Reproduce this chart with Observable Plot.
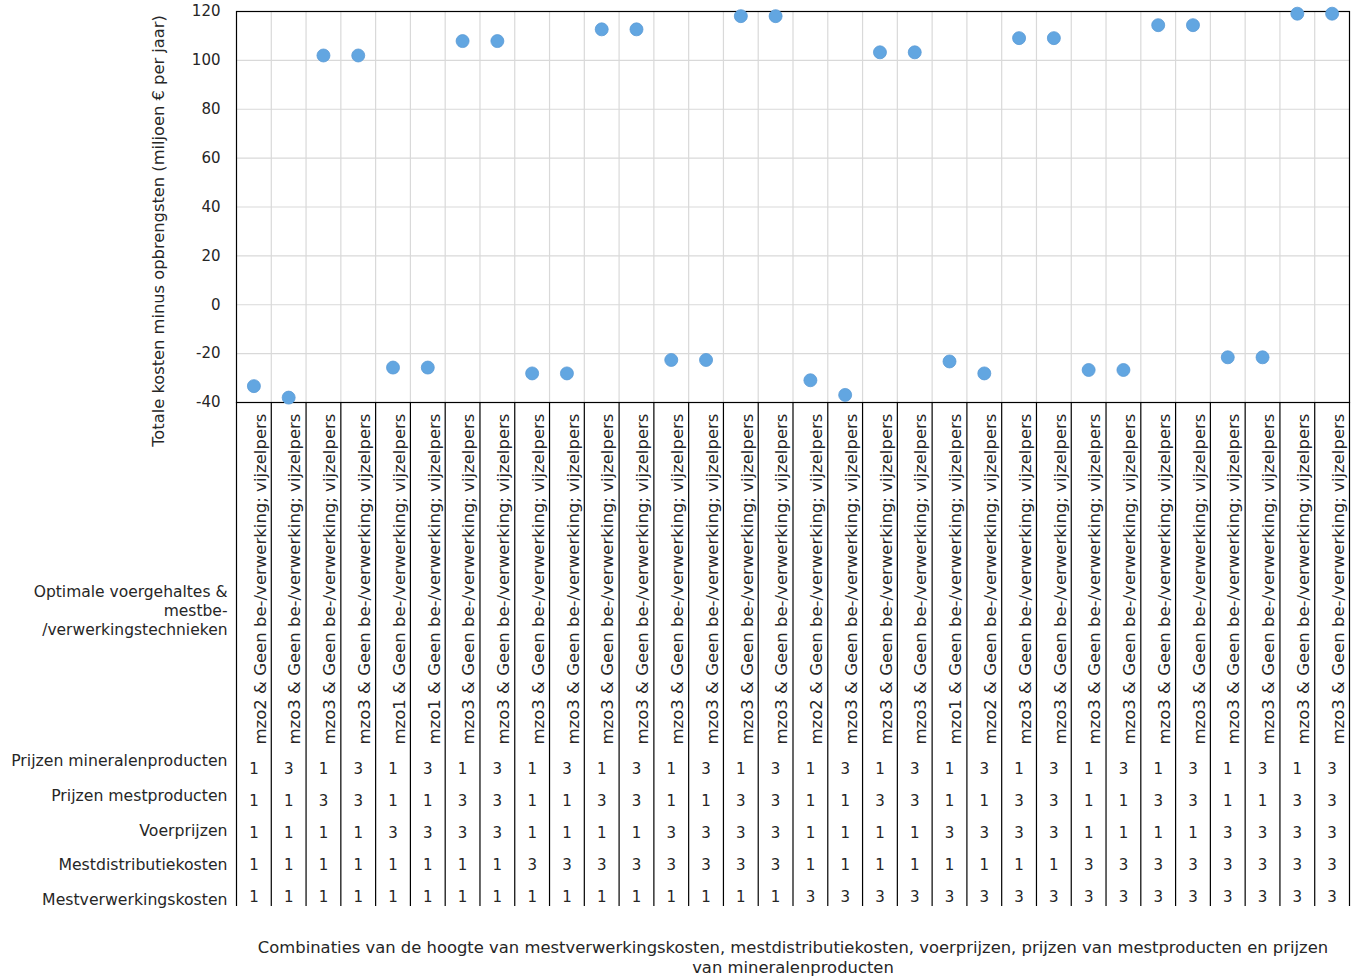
<!DOCTYPE html>
<html><head><meta charset="utf-8">
<script src="https://cdn.jsdelivr.net/npm/d3@7"></script>
<script src="https://cdn.jsdelivr.net/npm/@observablehq/plot@0.6"></script>
<style>
body{margin:0;background:#fff;}
#wrap{position:relative;width:1356px;height:979px;}
#wrap svg{position:absolute;left:0;overflow:visible;}
</style></head><body><div id="wrap"></div>
<script>
const categories = [
  "mzo2 & Geen be-/verwerking; vijzelpers","mzo3 & Geen be-/verwerking; vijzelpers",
  "mzo3 & Geen be-/verwerking; vijzelpers","mzo3 & Geen be-/verwerking; vijzelpers",
  "mzo1 & Geen be-/verwerking; vijzelpers","mzo1 & Geen be-/verwerking; vijzelpers",
  "mzo3 & Geen be-/verwerking; vijzelpers","mzo3 & Geen be-/verwerking; vijzelpers",
  "mzo3 & Geen be-/verwerking; vijzelpers","mzo3 & Geen be-/verwerking; vijzelpers",
  "mzo3 & Geen be-/verwerking; vijzelpers","mzo3 & Geen be-/verwerking; vijzelpers",
  "mzo3 & Geen be-/verwerking; vijzelpers","mzo3 & Geen be-/verwerking; vijzelpers",
  "mzo3 & Geen be-/verwerking; vijzelpers","mzo3 & Geen be-/verwerking; vijzelpers",
  "mzo2 & Geen be-/verwerking; vijzelpers","mzo3 & Geen be-/verwerking; vijzelpers",
  "mzo3 & Geen be-/verwerking; vijzelpers","mzo3 & Geen be-/verwerking; vijzelpers",
  "mzo1 & Geen be-/verwerking; vijzelpers","mzo2 & Geen be-/verwerking; vijzelpers",
  "mzo3 & Geen be-/verwerking; vijzelpers","mzo3 & Geen be-/verwerking; vijzelpers",
  "mzo3 & Geen be-/verwerking; vijzelpers","mzo3 & Geen be-/verwerking; vijzelpers",
  "mzo3 & Geen be-/verwerking; vijzelpers","mzo3 & Geen be-/verwerking; vijzelpers",
  "mzo3 & Geen be-/verwerking; vijzelpers","mzo3 & Geen be-/verwerking; vijzelpers",
  "mzo3 & Geen be-/verwerking; vijzelpers","mzo3 & Geen be-/verwerking; vijzelpers"
];
const values = [-33.3,-38.0,102,102,-25.7,-25.7,107.9,107.9,-28.1,-28.1,112.7,112.7,-22.6,-22.6,118.1,118.1,
  -30.9,-36.9,103.3,103.3,-23.2,-28.1,109.1,109.1,-26.7,-26.7,114.4,114.4,-21.5,-21.5,119.1,119.1];
const rowLabels = ["Prijzen mineralenproducten","Prijzen mestproducten","Voerprijzen","Mestdistributiekosten","Mestverwerkingskosten"];
const mineralen   = [1,3,1,3,1,3,1,3,1,3,1,3,1,3,1,3,1,3,1,3,1,3,1,3,1,3,1,3,1,3,1,3];
const mestprod    = [1,1,3,3,1,1,3,3,1,1,3,3,1,1,3,3,1,1,3,3,1,1,3,3,1,1,3,3,1,1,3,3];
const voer        = [1,1,1,1,3,3,3,3,1,1,1,1,3,3,3,3,1,1,1,1,3,3,3,3,1,1,1,1,3,3,3,3];
const distributie = [1,1,1,1,1,1,1,1,3,3,3,3,3,3,3,3,1,1,1,1,1,1,1,1,3,3,3,3,3,3,3,3];
const verwerking  = [1,1,1,1,1,1,1,1,1,1,1,1,1,1,1,1,3,3,3,3,3,3,3,3,3,3,3,3,3,3,3,3];
const yTicks = [-40,-20,0,20,40,60,80,100,120];
const yTitle = "Totale kosten minus opbrengsten (miljoen € per jaar)";
const optLabel = "Optimale voergehaltes &\nmestbe-\n/verwerkingstechnieken";
const xTitle = "Combinaties van de hoogte van mestverwerkingskosten, mestdistributiekosten, voerprijzen, prijzen van mestproducten en prijzen\nvan mineralenproducten";

const font = "Verdana, 'DejaVu Sans', sans-serif";
const W = 1356, n = categories.length;
const rowData = [mineralen, mestprod, voer, distributie, verwerking];
const cells = [];
rowData.forEach((arr, r) => arr.forEach((v, i) => cells.push({i, row: rowLabels[r], v})));
const bounds = d3.range(0, n + 1);
const ink = "#262626";

const chart = Plot.plot({
  width: W, height: 405, marginTop: 11, marginBottom: 3, marginLeft: 236, marginRight: 7,
  style: {background: "transparent", fontFamily: font, fontSize: "15px", color: ink, overflow: "visible"},
  x: {domain: [0, n], axis: null},
  y: {domain: [-40, 120], ticks: yTicks, tickFormat: d => String(d), tickSize: 0, tickPadding: 16, label: null},
  marks: [
    Plot.ruleY(yTicks, {stroke: "#d9d9d9", strokeWidth: 1.2}),
    Plot.ruleX(bounds.slice(1, n), {stroke: "#d9d9d9", strokeWidth: 1.2}),
    Plot.frame({stroke: "#000", strokeWidth: 1.2}),
    Plot.dot(values, {x: (d, i) => i + 0.5, y: d => d, r: 6.5, fill: "#62a6e1", stroke: "#5b9bd5", strokeWidth: 0.8}),
    Plot.text([yTitle], {text: d => d, frameAnchor: "left", textAnchor: "middle", dx: -78, dy: 24, rotate: -90, fontSize: 16.3, fill: ink})
  ]
});
chart.style.top = "0px";

const table = Plot.plot({
  width: W, height: 577, marginTop: 0, marginBottom: 73, marginLeft: 236, marginRight: 7,
  style: {background: "transparent", fontFamily: font, fontSize: "15px", color: ink, overflow: "visible"},
  x: {domain: [0, n], axis: null},
  y: {type: "point", domain: rowLabels, range: [366, 495], padding: 0, axis: null},
  marks: [
    Plot.ruleX(bounds, {stroke: "#000", strokeWidth: 1.2}),
    Plot.text(categories, {x: (d, i) => i + 0.5, text: d => d, frameAnchor: "top", dy: 342, rotate: -90, textAnchor: "start", fontSize: 16.5, fill: ink}),
    Plot.text(cells, {x: d => d.i + 0.5, y: "row", text: d => String(d.v), fontSize: 15, fill: ink}),
    Plot.text([rowLabels.join("\n")], {text: d => d, frameAnchor: "top-left", dx: -9, dy: 422, textAnchor: "end", lineAnchor: "middle", lineHeight: 2.2, fontSize: 15.7, fill: ink}),
    Plot.text([optLabel], {text: d => d, frameAnchor: "top-left", dx: -9, dy: 207.5, textAnchor: "end", lineAnchor: "middle", lineHeight: 1.2, fontSize: 15.5, fill: ink}),
    Plot.text([xTitle], {text: d => d, frameAnchor: "bottom", dy: 50, lineAnchor: "middle", lineHeight: 1.25, fontSize: 16.4, fill: ink})
  ]
});
table.style.top = "402px";

const wrap = document.getElementById("wrap");
wrap.appendChild(table);
wrap.appendChild(chart);
</script></body></html>
